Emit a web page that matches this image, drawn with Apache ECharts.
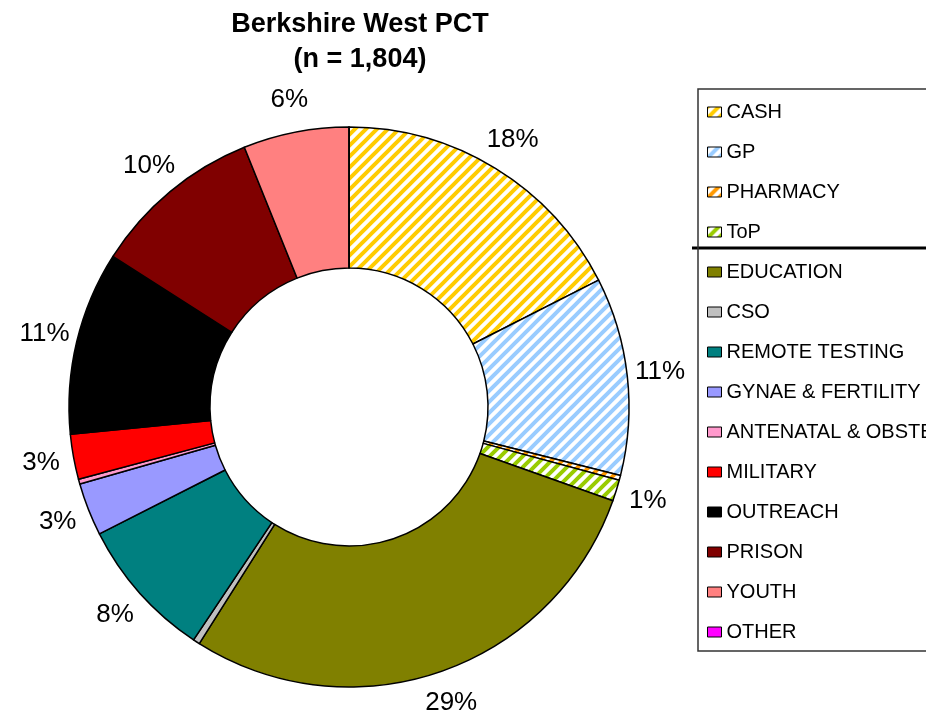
<!DOCTYPE html>
<html>
<head>
<meta charset="utf-8">
<script src="https://cdn.jsdelivr.net/npm/echarts@6/dist/echarts.min.js"></script>
<style>
  html, body { margin: 0; padding: 0; background: #fff; }
  #chart { width: 926px; height: 711px; }
</style>
</head>
<body>
<div id="chart"></div>
<script>
// categories and counts (n = 1,804)
const categories = ['CASH', 'GP', 'PHARMACY', 'ToP', 'EDUCATION', 'CSO', 'REMOTE TESTING',
  'GYNAE & FERTILITY', 'ANTENATAL & OBSTETRICS', 'MILITARY', 'OUTREACH', 'PRISON', 'YOUTH', 'OTHER'];
const counts = [316, 206, 5, 22, 515, 7, 147, 55, 5, 47, 191, 178, 110, 0];
const total = counts.reduce((a, b) => a + b, 0);

const fontFamily = '"Liberation Sans", Arial, sans-serif';

// diagonal stripes for the hatched slices
function stripes(color) {
  const c = document.createElement('canvas');
  c.width = 11;
  c.height = 11;
  const ctx = c.getContext('2d');
  ctx.fillStyle = '#fff';
  ctx.fillRect(0, 0, 11, 11);
  ctx.strokeStyle = color;
  ctx.lineWidth = 4;
  ctx.beginPath();
  ctx.moveTo(-5.5, 5.5); ctx.lineTo(5.5, -5.5);
  ctx.moveTo(0, 11); ctx.lineTo(11, 0);
  ctx.moveTo(5.5, 16.5); ctx.lineTo(16.5, 5.5);
  ctx.stroke();
  return { image: c, repeat: 'repeat' };
}

const colors = [
  stripes('#FFCC00'), stripes('#99CCFF'), stripes('#FF9900'), stripes('#99CC00'),
  '#808000', '#C0C0C0', '#008080', '#9999FF', '#FF99CC', '#FF0000',
  '#000000', '#800000', '#FF8080', '#FF00FF'
];

const pieData = categories.map((name, i) => ({
  name: name,
  value: counts[i],
  itemStyle: { color: colors[i] }
}));

const chart = echarts.init(document.getElementById('chart'));
chart.setOption({
  animation: false,
  title: {
    text: 'Berkshire West PCT\n(n = 1,804)',
    left: 355,
    top: 2,
    textAlign: 'center',
    textStyle: {
      fontFamily: fontFamily,
      fontSize: 27,
      fontWeight: 'bold',
      color: '#000',
      lineHeight: 35
    }
  },
  legend: {
    orient: 'vertical',
    left: 698,
    top: 89,
    padding: [13, 10, 9, 9],
    icon: 'rect',
    itemWidth: 14,
    itemHeight: 10,
    itemGap: 20,
    borderColor: '#333',
    borderWidth: 1.5,
    borderRadius: 0,
    selectedMode: false,
    data: categories,
    itemStyle: { borderColor: '#000', borderWidth: 1 },
    textStyle: {
      fontFamily: fontFamily,
      fontSize: 20,
      lineHeight: 20,
      color: '#000'
    }
  },
  graphic: [{
    type: 'polyline',
    shape: { points: [[692, 248], [926, 248]] },
    style: { stroke: '#000', lineWidth: 3 },
    silent: true
  }],
  series: [
    {
      type: 'pie',
      center: [349, 407],
      radius: [139, 280],
      startAngle: 90,
      clockwise: true,
      avoidLabelOverlap: false,
      data: pieData,
      itemStyle: { borderColor: '#000', borderWidth: 1.5 },
      label: { show: false },
      labelLine: { show: false },
      emphasis: { disabled: true }
    },
    {
      // transparent ring only used to place the percentage labels
      type: 'pie',
      center: [349, 407],
      radius: [280, 340],
      startAngle: 90,
      clockwise: true,
      silent: true,
      legendHoverLink: false,
      data: categories.map((name, i) => ({ name: name, value: counts[i] })),
      itemStyle: { color: 'rgba(0,0,0,0)', borderWidth: 0 },
      label: {
        show: true,
        position: 'inside',
        fontFamily: fontFamily,
        fontSize: 26,
        color: '#000',
        formatter: p => (p.value / total < 0.01 ? '' : Math.round(p.value / total * 100) + '%')
      },
      labelLine: { show: false },
      emphasis: { disabled: true }
    }
  ]
});
</script>
</body>
</html>
